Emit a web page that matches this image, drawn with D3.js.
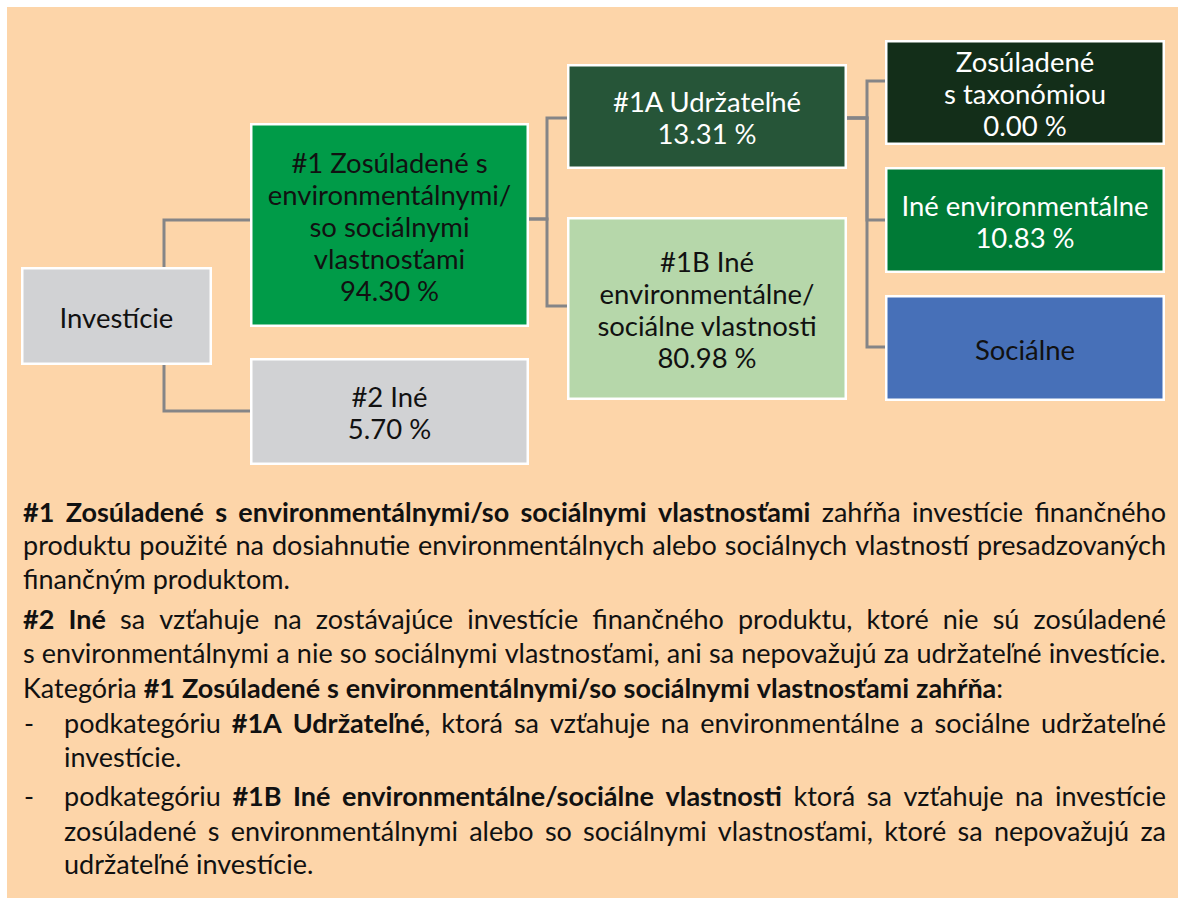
<!DOCTYPE html>
<html><head><meta charset="utf-8">
<script src="https://cdn.jsdelivr.net/npm/d3@7"></script>
<style>html,body{margin:0;padding:0;background:#fff;} svg{display:block;}</style>
</head><body>
<svg id="chart" width="1178" height="898"></svg>
<script>
// ---------------- DATA ----------------
const nodeIds     = ["inv", "n1", "n2", "n1a", "n1b", "tax", "env", "soc"];
const nodeLabels  = [
  ["Investície"],
  ["#1 Zosúladené s", "environmentálnymi/", "so sociálnymi", "vlastnosťami"],
  ["#2 Iné"],
  ["#1A Udržateľné"],
  ["#1B Iné", "environmentálne/", "sociálne vlastnosti"],
  ["Zosúladené", "s taxonómiou"],
  ["Iné environmentálne"],
  ["Sociálne"]
];
const nodeValues  = [null, 94.30, 5.70, 13.31, 80.98, 0.00, 10.83, null];
const nodeParents = [null, "inv", "inv", "n1", "n1", "n1a", "n1a", "n1a"];
const nodeDepth   = [0, 1, 1, 2, 2, 3, 3, 3];

const noteLines = [
  [{t: "#1 Zosúladené s environmentálnymi/so sociálnymi vlastnosťami", b: true}, {t: " zahŕňa investície finančného", b: false}],
  [{t: "produktu použité na dosiahnutie environmentálnych alebo sociálnych vlastností presadzovaných", b: false}],
  [{t: "finančným produktom.", b: false}],
  [{t: "#2 Iné", b: true}, {t: " sa vzťahuje na zostávajúce investície finančného produktu, ktoré nie sú zosúladené", b: false}],
  [{t: "s environmentálnymi a nie so sociálnymi vlastnosťami, ani sa nepovažujú za udržateľné investície.", b: false}],
  [{t: "Kategória ", b: false}, {t: "#1 Zosúladené s environmentálnymi/so sociálnymi vlastnosťami zahŕňa", b: true}, {t: ":", b: false}],
  [{t: "podkategóriu ", b: false}, {t: "#1A Udržateľné", b: true}, {t: ", ktorá sa vzťahuje na environmentálne a sociálne udržateľné", b: false}],
  [{t: "investície.", b: false}],
  [{t: "podkategóriu ", b: false}, {t: "#1B Iné environmentálne/sociálne vlastnosti", b: true}, {t: " ktorá sa vzťahuje na investície", b: false}],
  [{t: "zosúladené s environmentálnymi alebo so sociálnymi vlastnosťami, ktoré sa nepovažujú za", b: false}],
  [{t: "udržateľné investície.", b: false}]
];
const noteJustify = [true, true, false, true, true, false, true, false, true, true, false];
const noteIndent  = [false, false, false, false, false, false, true, true, true, true, true];
const noteBullet  = [false, false, false, false, false, false, true, false, true, false, false];

// ---------------- STYLE / LAYOUT ----------------
const FONT = "Lato, 'Open Sans', sans-serif";
const nodeFill = {inv: "#D1D2D4", n1: "#009B48", n2: "#D1D2D4", n1a: "#265538", n1b: "#B6D7AA", tax: "#132E19", env: "#007A36", soc: "#4770B8"};
const nodeTextColor = {inv: "#111", n1: "#111", n2: "#111", n1a: "#fff", n1b: "#111", tax: "#fff", env: "#fff", soc: "#111"};
const colX = d3.scaleOrdinal().domain([0, 1, 2, 3]).range([21, 250, 567, 885]);
const colW = d3.scaleOrdinal().domain([0, 1, 2, 3]).range([191, 279, 280, 280]);
const boxY = {inv: [267, 365], n1: [123, 327], n2: [358, 465], n1a: [64, 169], n1b: [217, 400], tax: [40, 145], env: [167, 273], soc: [295, 401]};
const entryY = {n1: 220, n2: 411, n1a: 118, n1b: 306, tax: 81, env: 220, soc: 347};
const exitY = {n1: 219, n1a: 118};
const trunkX = {inv: 164, n1: 547, n1a: 867};
const noteBaselines = [522, 555, 589, 629, 663, 698, 733, 767, 806, 841, 874];
const noteLeft = 23, noteIndentX = 64, noteRight = 1166;

const svg = d3.select("#chart");
svg.append("rect").attr("x", 7).attr("y", 7).attr("width", 1178 - 7).attr("height", 898 - 7).attr("fill", "#FDD5A9");

const measurer = svg.append("text").attr("visibility", "hidden").attr("font-family", FONT);
function textW(str, size, bold) {
  measurer.attr("font-size", size).attr("font-weight", bold ? 700 : 400).text(str);
  return measurer.node().getComputedTextLength();
}

// fit font sizes to reference text widths
const boxFont = 100 * 247 / textW("Iné environmentálne", 100, false);
const bodyFont = 100 * 1140 / textW(noteLines[4][0].t, 100, false);

const nodes = nodeIds.map((id, i) => {
  const d = nodeDepth[i];
  return {id, i, depth: d, parent: nodeParents[i], labels: nodeLabels[i], value: nodeValues[i],
    x0: colX(d), x1: colX(d) + colW(d), y0: boxY[id][0], y1: boxY[id][1]};
});
const byId = Object.fromEntries(nodes.map(n => [n.id, n]));

// connectors
const line = d3.line();
const gLinks = svg.append("g").attr("fill", "none").attr("stroke", "#858587").attr("stroke-width", 3);
nodes.filter(n => n.parent).forEach(n => {
  const p = byId[n.parent];
  const tx = trunkX[p.id];
  let pts;
  if (p.depth === 0) {
    const sy = n.y0 + n.y1 < p.y0 + p.y1 ? p.y0 : p.y1;
    pts = [[tx, sy], [tx, entryY[n.id]], [n.x0, entryY[n.id]]];
  } else {
    pts = [[p.x1, exitY[p.id]], [tx, exitY[p.id]], [tx, entryY[n.id]], [n.x0, entryY[n.id]]];
  }
  gLinks.append("path").attr("d", line(pts)).attr("stroke-linejoin", "miter").attr("stroke-linecap", "butt");
});

// boxes
const gNodes = svg.append("g");
const fmt = d3.format(".2f");
const lh = 32;
nodes.forEach(n => {
  gNodes.append("rect")
    .attr("x", n.x0 + 1.25).attr("y", n.y0 + 1.25)
    .attr("width", n.x1 - n.x0 - 2.5).attr("height", n.y1 - n.y0 - 2.5)
    .attr("fill", nodeFill[n.id]).attr("stroke", "#fff").attr("stroke-width", 2.5);
  const lines = n.labels.slice();
  if (n.value !== null) lines.push(fmt(n.value) + " %");
  const cx = (n.x0 + n.x1) / 2, cy = (n.y0 + n.y1) / 2 + 2;
  const t = gNodes.append("text").attr("text-anchor", "middle").attr("font-family", FONT)
    .attr("font-size", boxFont).attr("fill", nodeTextColor[n.id]);
  lines.forEach((s, k) => {
    t.append("tspan").attr("x", cx)
      .attr("y", cy + (k - (lines.length - 1) / 2) * lh + boxFont * 0.36)
      .text(s);
  });
});

// notes
const gNotes = svg.append("g").attr("font-family", FONT).attr("font-size", bodyFont).attr("fill", "#111");
const spaceW = textW("a a", bodyFont, false) - textW("aa", bodyFont, false);
noteLines.forEach((segs, i) => {
  const tokens = [];
  let cur = [];
  segs.forEach(s => {
    s.t.split(" ").forEach((p, k) => {
      if (k > 0) { if (cur.length) tokens.push(cur); cur = []; }
      if (p) cur.push({t: p, b: s.b});
    });
  });
  if (cur.length) tokens.push(cur);
  const widths = tokens.map(tok => d3.sum(tok, p => textW(p.t, bodyFont, p.b)));
  const startX = noteIndent[i] ? noteIndentX : noteLeft;
  const gap = (noteJustify[i] && tokens.length > 1)
    ? (noteRight - startX - d3.sum(widths)) / (tokens.length - 1) : spaceW;
  const y = noteBaselines[i];
  if (noteBullet[i]) gNotes.append("text").attr("x", noteLeft + 1).attr("y", y).text("-");
  const t = gNotes.append("text").attr("y", y);
  let x = startX;
  tokens.forEach((tok, j) => {
    tok.forEach((p, k) => {
      const ts = t.append("tspan").attr("font-weight", p.b ? 700 : 400).text(p.t);
      if (k === 0) ts.attr("x", x).attr("y", y);
    });
    x += widths[j] + gap;
  });
});
measurer.remove();
</script>
</body></html>
